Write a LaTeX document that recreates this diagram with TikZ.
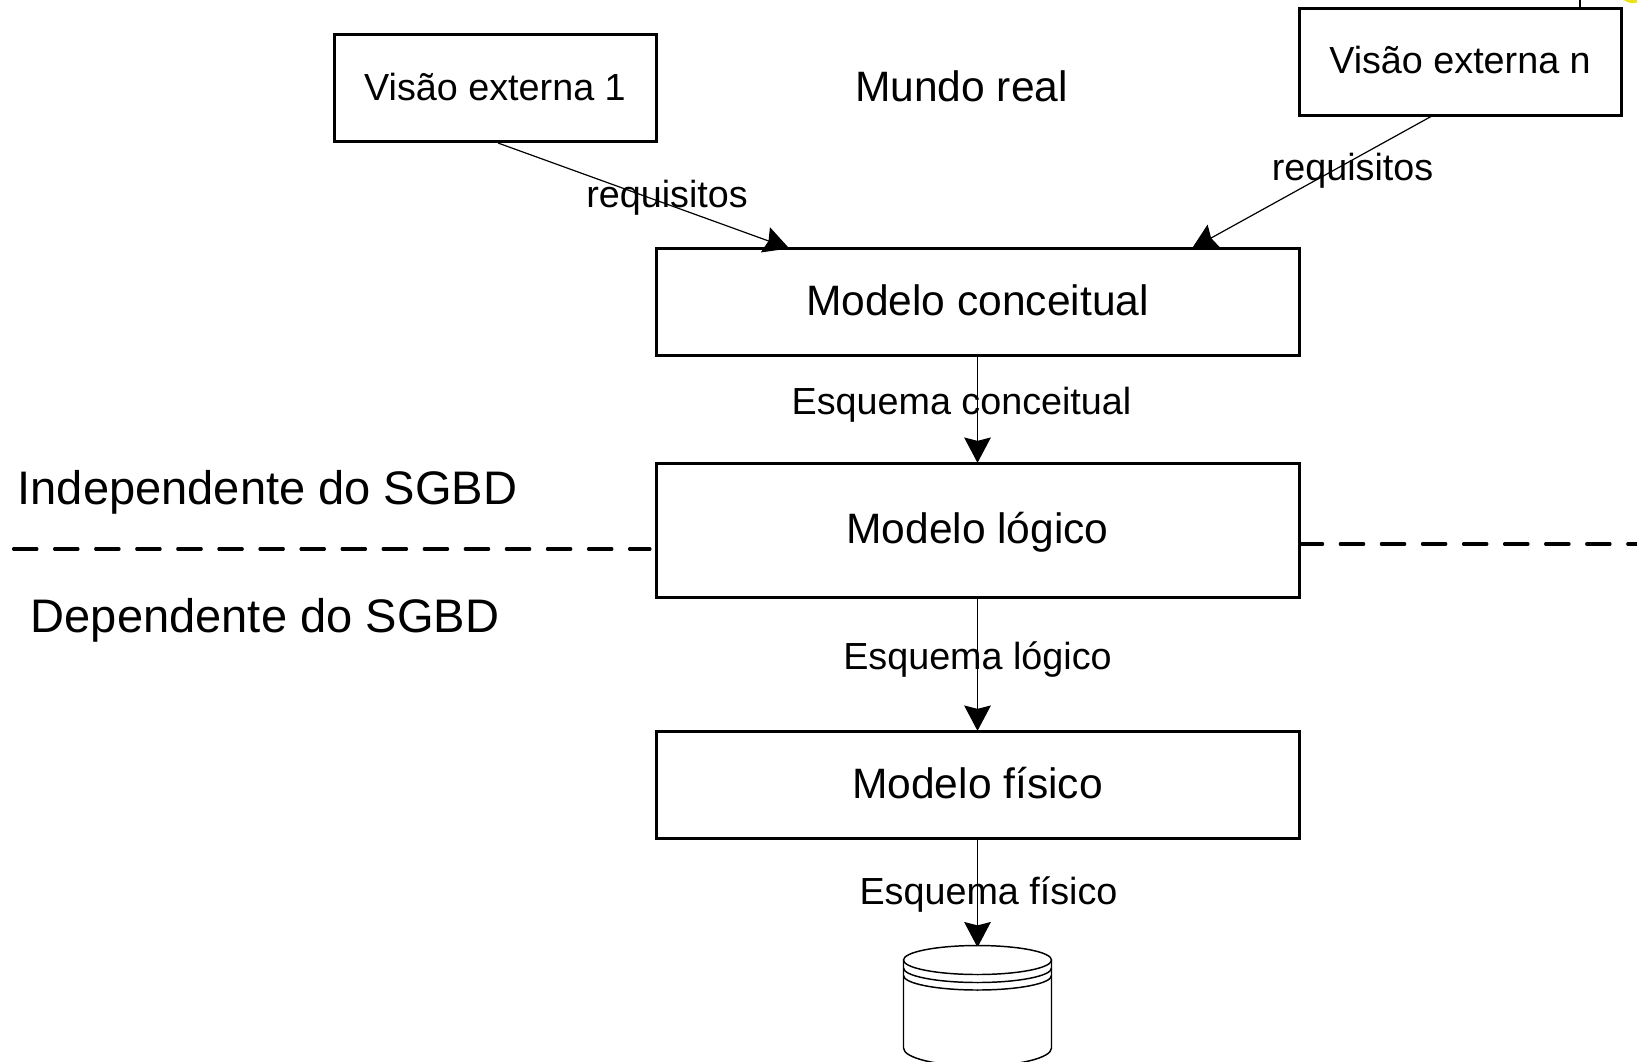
\documentclass[tikz,border=0pt]{standalone}
\usepackage{fontspec}
\setmainfont{Liberation Sans}
\usetikzlibrary{arrows.meta}
\begin{document}
\begin{tikzpicture}[x=0.75pt,y=-0.75pt,
  box/.style={draw,line width=2.25pt,minimum height=#1*0.75pt,inner sep=0pt,font=\fontsize{31.9}{36}\selectfont},
  box/.default=107,
  small/.style={font=\fontsize{28.3}{32}\selectfont,inner sep=0pt},
  big/.style={font=\fontsize{31.9}{36}\selectfont,inner sep=0pt},
  large/.style={font=\fontsize{35.3}{40}\selectfont,inner sep=0pt},
  link/.style={line width=0.9pt,shorten >=-1pt,-{Stealth[length=19pt,width=20pt,inset=2.5pt]}},
  dashline/.style={line width=2.3pt,line cap=round,dash pattern=on 17.6pt off 13.2pt},
  cylline/.style={line width=1.1pt}]
\useasboundingbox (0,0) rectangle (1637,1061);
\begin{scope}
\clip (0,0) rectangle (1637,1061);
\fill[fill={rgb,255:red,235;green,225;blue,20}] (1633,-11.7) circle (14.8);
\node[box,small,minimum width=322*0.75pt,text depth=1.5pt] (v1) at (495,88) {Visão externa 1};
\node[box,small,minimum width=322*0.75pt,text depth=3pt] (vn) at (1460,61.5) {Visão externa n};
\coordinate (top) at (1580,0);
\draw[line width=2pt] (top) -- (top|-vn.north);
\node[big] (mundo) at (961.5,86) {Mundo real};
\node[box,minimum width=643*0.75pt,text depth=3pt] (conc) at (977.5,302) {Modelo conceitual};
\node[box=134,minimum width=643*0.75pt,text height=26.3pt] (log) at (977.5,530) {Modelo lógico};
\node[box,minimum width=643*0.75pt,text depth=3pt] (fis) at (977.5,784.5) {Modelo físico};
\coordinate (t1) at (788,248);
\coordinate (t2) at (1193,248);
\coordinate (s1x) at (498,0);
\coordinate (s2x) at (1431,0);
\draw[link] (s1x|-v1.south) -- (t1);
\draw[link] (s2x|-vn.south) -- (t2);
\coordinate (cyl) at (977.5,946);
\draw[link] (conc.south-|cyl) -- (log.north-|cyl);
\draw[link] (log.south-|cyl) -- (fis.north-|cyl);
\draw[link] (fis.south-|cyl) -- (cyl);
% cylinder
\draw[cylline,fill=white] (903.5,960) -- (903.5,1048) arc[start angle=180,end angle=0,x radius=74,y radius=18] -- (1051.5,960);
\draw[cylline] (903.5,968) arc[start angle=180,end angle=0,x radius=74,y radius=14.5];
\draw[cylline] (903.5,975.5) arc[start angle=180,end angle=0,x radius=74,y radius=14.5];
\draw[cylline,fill=white] (977.5,960) ellipse[x radius=74,y radius=14.5];
% dashes
\coordinate (dl) at (13.5,549);
\coordinate (dle) at (650,549);
\coordinate (dr) at (1637,544);
\draw[dashline] (dl) -- (dle);
\draw[dashline,dash phase=1pt] (log.east|-dr) -- (dr);
\node[large] (ind) at (267.5,492) {Independente do SGBD};
\node[large] (dep) at (265,620) {Dependente do SGBD};
\node[small] (r1) at (667,198) {requisitos};
\node[small] (r2) at (1352.5,171) {requisitos};
\node[small] (e1) at (961.5,405) {Esquema conceitual};
\node[small] (e2) at (977.5,660) {Esquema lógico};
\node[small] (e3) at (988.5,894.5) {Esquema físico};
\end{scope}
\end{tikzpicture}
\end{document}
